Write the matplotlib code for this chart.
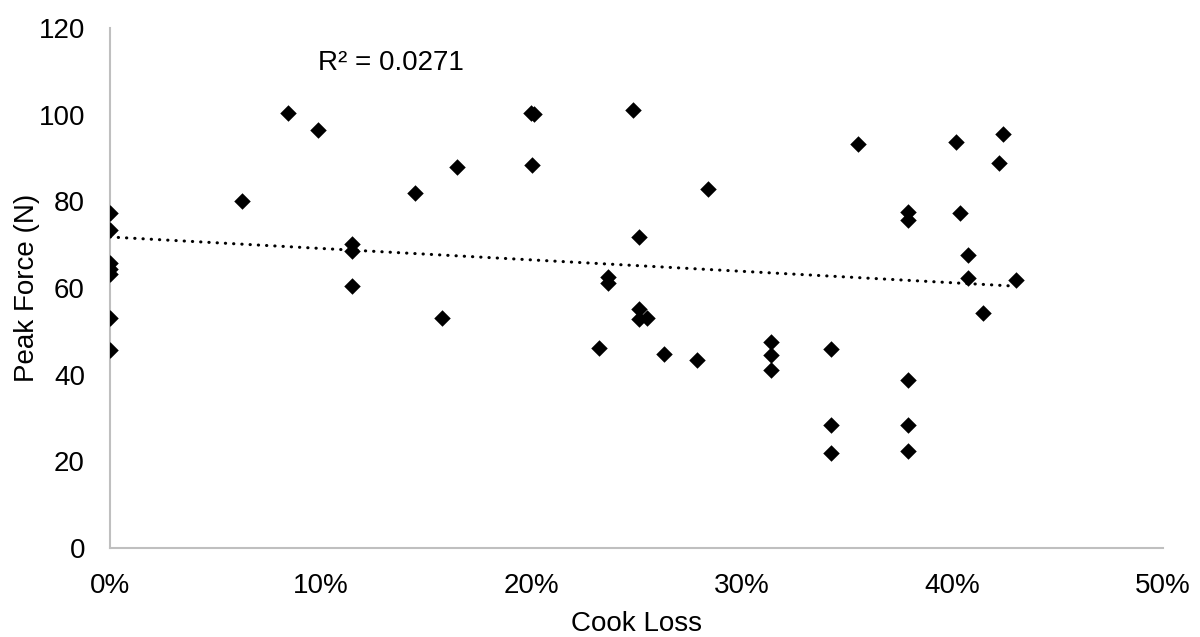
import numpy as np
import matplotlib
matplotlib.use("Agg")
import matplotlib.pyplot as plt
from matplotlib.ticker import PercentFormatter, MultipleLocator

plt.rcParams["font.family"] = ["Liberation Sans", "DejaVu Sans"]

# Cook loss (fraction of raw weight) and peak shear force (N) per sample
cook_loss = [
    0.0, 0.0, 0.0, 0.0, 0.0, 0.0, 0.0,
    0.0628, 0.0844, 0.0986,
    0.115, 0.115, 0.115,
    0.145, 0.1575, 0.1649,
    0.2000, 0.2015, 0.2005,
    0.2322, 0.2366, 0.2366, 0.2482,
    0.2512, 0.2512, 0.2512, 0.2548,
    0.2631, 0.2786, 0.2841,
    0.3139, 0.3139, 0.3139,
    0.3424, 0.3424, 0.3424, 0.3552,
    0.3789, 0.3789, 0.3789, 0.3789, 0.3789,
    0.4016, 0.4036, 0.4076, 0.4076, 0.4145, 0.4221, 0.4240, 0.4300,
]
peak_force = [
    77.2, 73.4, 65.7, 64.3, 63.3, 53.0, 45.7,
    80.1, 100.5, 96.5,
    70.2, 68.5, 60.5,
    81.9, 53.0, 87.9,
    100.3, 100.1, 88.3,
    46.2, 62.5, 61.1, 101.0,
    71.8, 55.2, 52.8, 53.1,
    44.7, 43.4, 82.8,
    47.5, 44.5, 41.1,
    46.0, 28.5, 22.0, 93.2,
    77.5, 75.7, 38.8, 28.3, 22.5,
    93.8, 77.4, 67.6, 62.4, 54.3, 88.9, 95.5, 61.9,
]
r2_label = "R² = 0.0271"

x = np.array(cook_loss)
y = np.array(peak_force)

W, H = 1200, 637
fig = plt.figure(figsize=(W / 100, H / 100), dpi=100)
ax = fig.add_axes([110 / W, 1 - 548 / H, 1053 / W, 520 / H])

ax.scatter(x, y, marker="D", s=8.4 ** 2, color="black", linewidths=0, zorder=3)

# Linear trendline over the observed range
slope, intercept = np.polyfit(x, y, 1)
xt = np.array([0.0, x.max()])
ax.plot(xt, intercept + slope * xt, color="black", linewidth=2.2,
        linestyle=(0, (0.1, 2.6)), dash_capstyle="round", zorder=2)

ax.text(0.1975, 0.933, r2_label, transform=ax.transAxes, fontsize=20,
        ha="left", va="center", color="black")

ax.set_xlim(0, 0.5)
ax.set_ylim(0, 120)
ax.xaxis.set_major_locator(MultipleLocator(0.1))
ax.xaxis.set_major_formatter(PercentFormatter(xmax=1, decimals=0))
ax.yaxis.set_major_locator(MultipleLocator(20))

for side in ("top", "right"):
    ax.spines[side].set_visible(False)
for side in ("left", "bottom"):
    ax.spines[side].set_color("#bfbfbf")
    ax.spines[side].set_linewidth(1.5)

ax.tick_params(axis="both", length=0, labelsize=20, colors="black")
ax.tick_params(axis="y", pad=18)
ax.tick_params(axis="x", pad=18)

ax.set_xlabel("Cook Loss", fontsize=20, color="black", va="center")
ax.set_ylabel("Peak Force (N)", fontsize=20, color="black", va="center")
ax.xaxis.set_label_coords(0.5, -(624 - 548) / 520)
ax.yaxis.set_label_coords(-(110 - 27) / 1053, 0.5)

fig.savefig("out.png", dpi=100)
